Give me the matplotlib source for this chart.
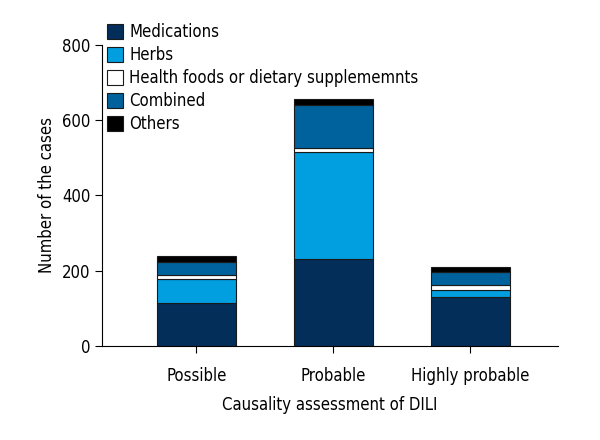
import numpy as np
import matplotlib.pyplot as plt
from matplotlib.patches import Patch

plt.rcParams['font.family'] = ['DejaVu Sans']
plt.rcParams['font.stretch'] = 'condensed'

# 数据
categories = ['Possible', 'Probable', 'Highly probable']
medications = [115, 232, 129]
herbs = [62, 284, 20]
health_foods = [12, 11, 12]
combined = [35, 112, 36]
others = [15, 16, 13]

series = [
    ('Medications', medications, '#032e5a'),
    ('Herbs', herbs, '#019ee0'),
    ('Health foods or dietary supplememnts', health_foods, '#ffffff'),
    ('Combined', combined, '#00629c'),
    ('Others', others, '#000000'),
]

fig = plt.figure(figsize=(6, 4.4), dpi=100)
ax = fig.add_axes([0.17, 0.214, 0.76, 0.684])

x = np.arange(len(categories))
bottom = np.zeros(len(categories))
handles = []
for name, vals, color in series:
    ax.bar(x, vals, width=0.58, bottom=bottom, color=color,
           edgecolor='#1a1a1a', linewidth=0.8)
    bottom += np.array(vals)
    handles.append(Patch(facecolor=color, edgecolor='#1a1a1a', linewidth=0.8, label=name))

ax.set_xlim(-0.69, 2.64)
ax.set_ylim(0, 800)
ax.set_yticks([0, 200, 400, 600, 800])
ax.set_xticks(x)
ax.set_xticklabels(categories)
ax.spines['top'].set_visible(False)
ax.spines['right'].set_visible(False)
ax.tick_params(labelsize=12, length=5, width=0.8)
ax.tick_params(axis='x', pad=10)
ax.set_xlabel('Causality assessment of DILI', fontsize=12, labelpad=8)
ax.set_ylabel('Number of the cases', fontsize=12, labelpad=4)

fig.legend(handles=handles, loc='upper left', bbox_to_anchor=(0.168, 0.962),
           frameon=False, fontsize=12, handlelength=0.95, handleheight=0.95,
           handletextpad=0.35, labelspacing=0.3, borderaxespad=0)

fig.savefig('out.png', dpi=100)
